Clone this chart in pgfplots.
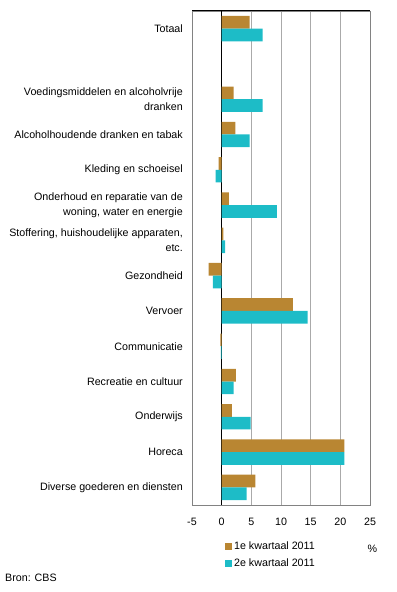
\documentclass[border=0pt]{standalone}
\usepackage{pgfplots}
\pgfplotsset{compat=1.18}
\usepackage{fontspec}
\setmainfont{Liberation Sans}
\definecolor{cbsbrown}{RGB}{185,134,50}
\definecolor{cbsteal}{RGB}{29,188,199}
\definecolor{gridgray}{RGB}{170,170,170}
\definecolor{framegray}{RGB}{130,130,130}
\newcommand{\cf}{\fontsize{10.7bp}{14.7bp}\selectfont}
\newcommand{\lf}{\fontsize{10.7bp}{12bp}\selectfont}
\begin{document}
\begin{tikzpicture}[x=1bp,y=1bp]
\useasboundingbox (0,0) rectangle (396,592);
\begin{axis}[
  at={(192bp,87bp)}, anchor=south west,
  scale only axis, width=178bp, height=494bp,
  xbar, bar width=12.7bp,
  xmin=-5, xmax=25, ymin=-0.5, ymax=13.5, y dir=reverse,
  xtick={-5,0,5,10,15,20,25}, xticklabels={-5,0,5,10,15,20,25},
  ytick={0,2,3,4,5,6,7,8,9,10,11,12,13},
  yticklabels={Totaal,
    {Voedingsmiddelen en alcoholvrije\\dranken},
    Alcoholhoudende dranken en tabak,
    Kleding en schoeisel,
    {Onderhoud en reparatie van de\\woning, water en energie},
    {Stoffering, huishoudelijke apparaten,\\etc.},
    Gezondheid, Vervoer, Communicatie, Recreatie en cultuur,
    Onderwijs, Horeca, Diverse goederen en diensten},
  major tick length=0pt,
  xmajorgrids, grid style={gridgray, line width=0.9bp},
  extra x ticks={0}, extra x tick labels={},
  extra x tick style={grid style={black, line width=1bp}},
  axis line style={framegray, line width=0.9bp},
  tick label style={font=\cf, text=black},
  xticklabel style={anchor=base, yshift=-20bp, inner sep=0pt},
  yticklabel style={anchor=east, align=right, inner sep=0pt, xshift=-9bp},
  legend style={at={(0.185,-0.0709)}, anchor=north west, draw=none, fill=none,
    inner sep=0pt, font=\lf, row sep=3bp},
  legend cell align=left,
  legend image code/.code={\fill[#1] (0bp,-3.5bp) rectangle (7bp,3.5bp);},
]
\addplot[fill=cbsbrown, draw=none, bar shift=6.35bp] coordinates {
  (4.7,0) (2.0,2) (2.3,3) (-0.5,4) (1.2,5) (0.3,6) (-2.2,7) (12.0,8)
  (-0.2,9) (2.4,10) (1.7,11) (20.7,12) (5.7,13)};
\addplot[fill=cbsteal, draw=none, bar shift=-6.35bp] coordinates {
  (6.9,0) (6.9,2) (4.7,3) (-1.0,4) (9.3,5) (0.6,6) (-1.5,7) (14.5,8)
  (-0.15,9) (2.0,10) (4.9,11) (20.7,12) (4.2,13)};
\legend{1e kwartaal 2011, 2e kwartaal 2011}
\draw[black, line width=1bp] (axis cs:-5,-0.5) -- (axis cs:25,-0.5);
\end{axis}
\node[font=\cf] at (372.5,43) {\%};
\node[font=\cf, anchor=west, inner sep=0pt] at (5,14) {Bron: CBS};
\end{tikzpicture}
\end{document}
